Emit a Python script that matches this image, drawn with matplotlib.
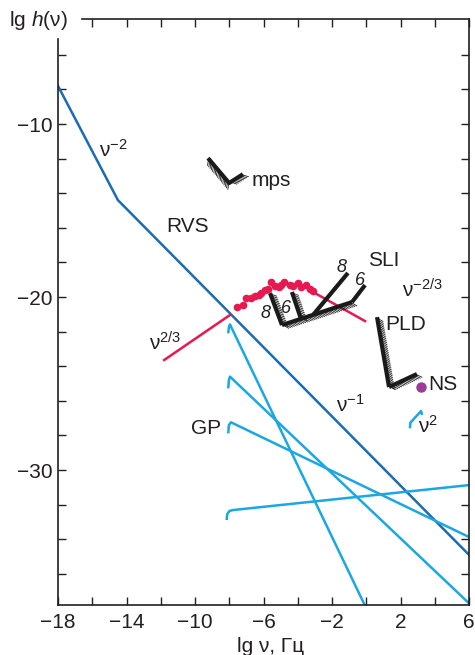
import matplotlib
matplotlib.use("Agg")
import matplotlib.pyplot as plt
import matplotlib.patheffects as pe

plt.rcParams["font.family"] = ["Liberation Sans", "DejaVu Sans"]
plt.rcParams["mathtext.fontset"] = "custom"
plt.rcParams["mathtext.rm"] = "Liberation Sans"
plt.rcParams["mathtext.it"] = "Liberation Sans:italic"

# radial velocity (RVS) bound, lg h vs lg nu
rvs_x = [-18, -14.5, 6]
rvs_y = [-7.8, -14.4, -34.9]

# red nu^(2/3) segment, dots and nu^(-2/3) tail
red_left_x = [-11.8, -7.96]
red_left_y = [-23.64, -21.04]
red_dots_x = [-7.53, -7.2, -7.0, -6.71, -6.51, -6.28, -6.13, -5.93, -5.74, -5.54,
              -5.35, -5.11, -4.96, -4.8, -4.47, -4.28, -3.99, -3.83, -3.5, -3.3, -3.11]
red_dots_y = [-20.58, -20.48, -20.06, -20.06, -19.94, -19.87, -19.75, -19.61, -19.52, -19.13,
              -19.36, -19.42, -19.32, -19.13, -19.29, -19.36, -19.19, -19.42, -19.32, -19.52, -19.65]
red_right_x = [-3.11, -0.07]
red_right_y = [-19.71, -21.39]

# GP curves (with their starting hooks)
gp1_x = [-8.06, -8.02, -7.96, 0.2]
gp1_y = [-22.1, -21.75, -21.58, -38.4]
gp2_x = [-8.06, -8.02, -7.96, 6.0]
gp2_y = [-25.28, -24.8, -24.6, -37.7]
gp3_x = [-8.06, -8.02, -7.9, 6.0]
gp3_y = [-27.88, -27.4, -27.24, -33.87]
gp4_x = [-8.15, -8.12, -7.98, -7.76, 6.0]
gp4_y = [-32.89, -32.55, -32.36, -32.31, -30.87]
nu2_x = [2.55, 2.58, 3.2, 3.26]
nu2_y = [-27.59, -27.26, -26.59, -26.82]

# hatched limits
mps_x = [-9.24, -8.01, -7.2]
mps_y = [-11.97, -13.41, -12.9]
sli_bar8_x = [-5.62, -4.92]
sli_bar8_y = [-19.77, -21.62]
sli_bar6_x = [-4.34, -3.81]
sli_bar6_y = [-19.71, -21.27]
sli_base_x = [-4.92, -0.83]
sli_base_y = [-21.62, -20.29]
sli_up8_x = [-3.11, -1.07]
sli_up8_y = [-21.04, -18.61]
sli_up6_x = [-0.83, -0.07]
sli_up6_y = [-20.29, -19.31]
pld_v_x = [0.63, 1.33]
pld_v_y = [-21.16, -25.2]
pld_h_x = [1.33, 2.96]
pld_h_y = [-25.2, -24.45]

ns_x, ns_y = 3.2, -25.2

xticks = list(range(-18, 7, 2))
yticks = list(range(-36, -5, 2))

DARK = "#1b6cb3"
CYAN = "#1aa7e2"
RED = "#e8194f"
BLACK = "#1a1a1a"
TXT = "#231f20"

fig = plt.figure(figsize=(4.75, 6.55), dpi=100)
ax = fig.add_axes([58 / 475, 50 / 655, 411 / 475, 586 / 655])
ax.set_xlim(-18, 6)
ax.set_ylim(-37.8, -3.93)

ax.plot(rvs_x, rvs_y, color=DARK, lw=1.8, solid_joinstyle="miter")
for gx, gy in [(gp1_x, gp1_y), (gp2_x, gp2_y), (gp3_x, gp3_y), (gp4_x, gp4_y), (nu2_x, nu2_y)]:
    ax.plot(gx, gy, color=CYAN, lw=1.8, solid_capstyle="butt")

ax.plot(red_left_x, red_left_y, color=RED, lw=1.8)
ax.plot(red_right_x, red_right_y, color=RED, lw=1.8)
ax.plot(red_dots_x, red_dots_y, "o", color=RED, ms=5.5, mec="none")


def hatched(x, y, side):
    ang = 50 if side == "left" else -50
    ax.plot(x, y, color=BLACK, lw=3, solid_capstyle="butt", zorder=4,
            path_effects=[pe.TickedStroke(spacing=1.4, angle=ang, length=3.6, linewidth=0.6,
                                          foreground=BLACK),
                          pe.Normal()])


hatched(mps_x, mps_y, "right")
hatched(sli_bar8_x, sli_bar8_y, "left")
hatched(sli_bar6_x, sli_bar6_y, "left")
hatched(sli_base_x, sli_base_y, "right")
hatched(pld_v_x, pld_v_y, "left")
hatched(pld_h_x, pld_h_y, "right")
ax.plot(sli_up8_x, sli_up8_y, color=BLACK, lw=3, solid_capstyle="butt", zorder=4)
ax.plot(sli_up6_x, sli_up6_y, color=BLACK, lw=3, solid_capstyle="butt", zorder=4)

ax.plot(ns_x, ns_y, "o", color="#9b3d96", ms=7.5, mec="none", zorder=5)

fs = 15
labels = [
    (-14.79, -11.5, r"ν$^{-2}$"),
    (-10.41, -15.95, "RVS"),
    (-5.56, -13.24, "mps"),
    (1.04, -17.86, "SLI"),
    (3.26, -19.6, r"ν$^{-2/3}$"),
    (2.32, -21.6, "PLD"),
    (4.48, -25.03, "NS"),
    (3.6, -27.46, r"ν$^{2}$"),
    (-0.95, -26.24, r"ν$^{-1}$"),
    (-9.36, -27.57, "GP"),
    (-11.75, -22.66, r"ν$^{2/3}$"),
]
for lx, ly, s in labels:
    ax.text(lx, ly, s, fontsize=fs, color=TXT, ha="center", va="center")

nums = [(-5.91, -20.98, "8"), (-4.69, -20.64, "6"), (-1.42, -18.27, "8"), (-0.36, -19.02, "6")]
for lx, ly, s in nums:
    ax.text(lx, ly, s, fontsize=13, style="italic", color=TXT, ha="center", va="center")

# axes frame
for sp in ax.spines.values():
    sp.set_linewidth(1.2)
    sp.set_color(TXT)
ax.spines["left"].set_bounds(-37.8, -5.1)
ax.spines["top"].set_bounds(-16.6, 6)

ax.set_xticks(xticks)
ax.set_xticklabels([("−%d" % -v if v < 0 else "%d" % v) if (v + 18) % 4 == 0 else "" for v in xticks])
ax.set_yticks(yticks)
ax.set_yticklabels(["−%d" % -v if v % 10 == 0 else "" for v in yticks])
ax.tick_params(direction="in", length=5.5, width=1.0, color=TXT, labelsize=fs, labelcolor=TXT,
               top=True, right=True)
ax.tick_params(axis="x", pad=6)
ax.tick_params(axis="y", pad=4)
ax.xaxis.get_major_ticks()[0].tick2line.set_visible(False)

fig.text(9 / 475, 1 - 21 / 655, r"lg $h$(ν)", fontsize=fs, color=TXT, ha="left", va="center")
fig.text(271 / 475, 1 - 646 / 655, "lg ν, Гц", fontsize=fs, color=TXT, ha="center", va="center")

fig.savefig("out.png", dpi=100)
